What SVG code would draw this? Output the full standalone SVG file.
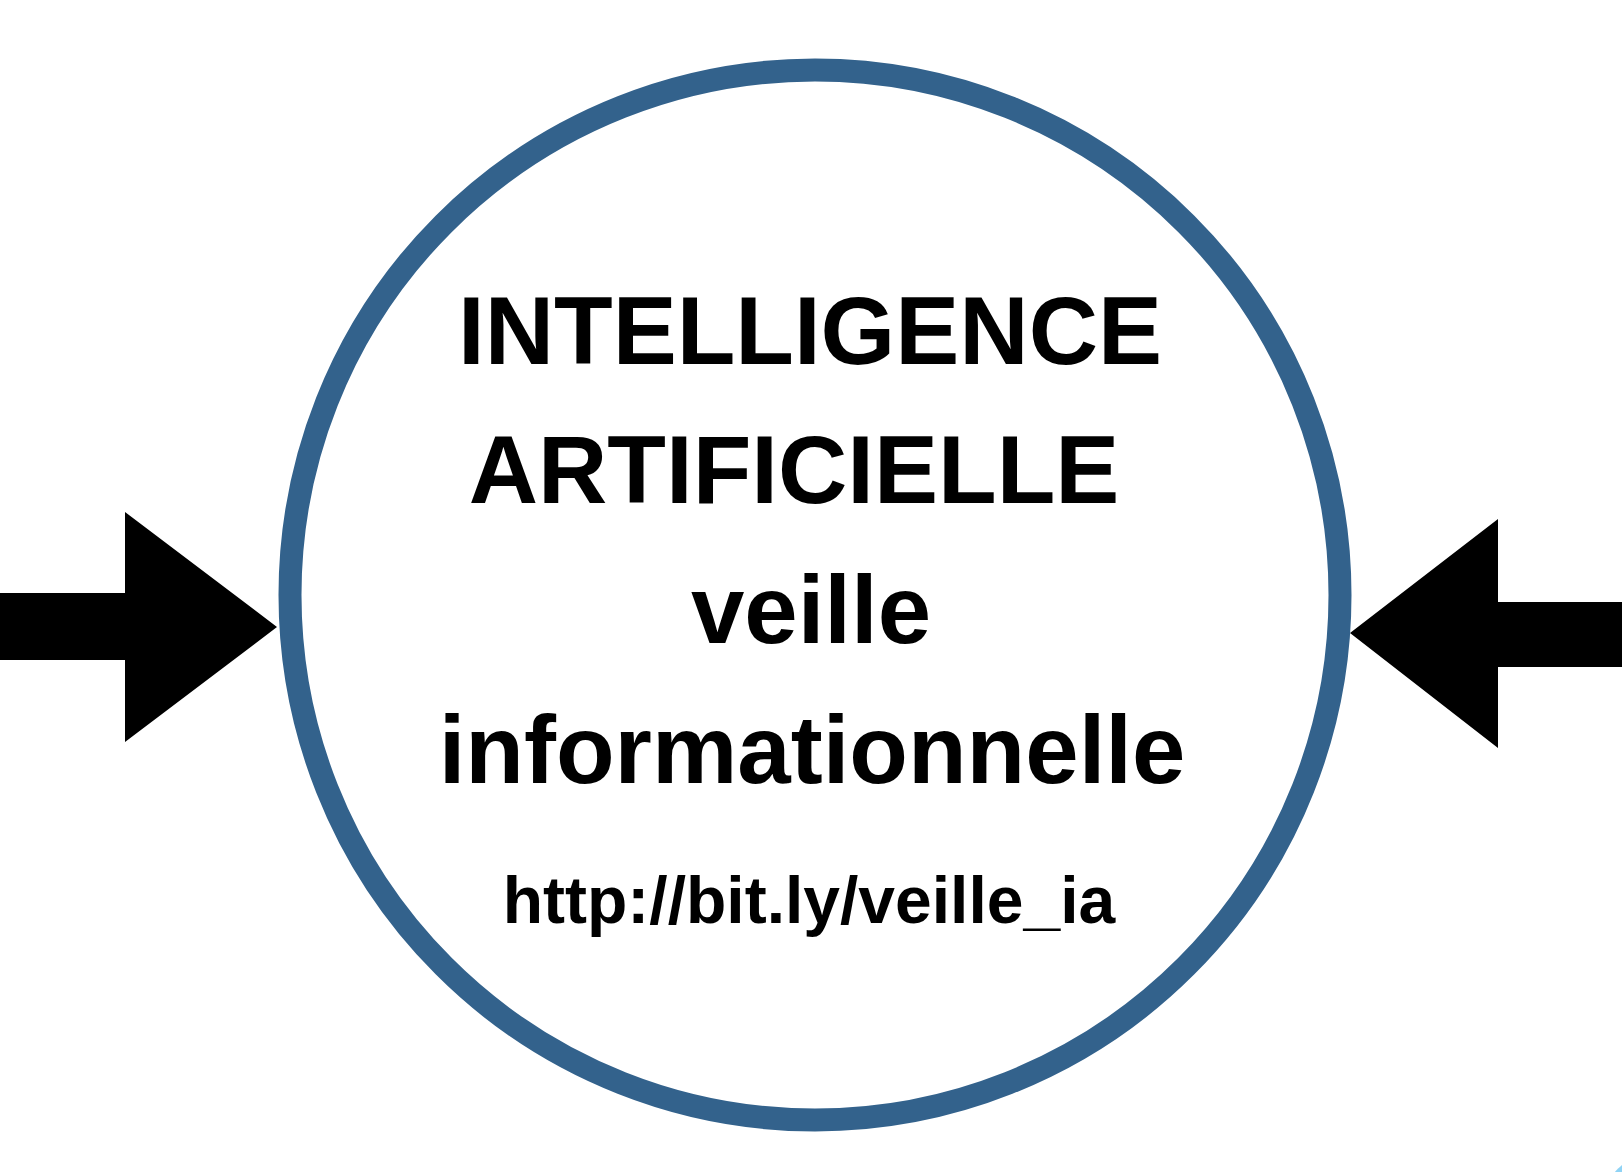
<svg xmlns="http://www.w3.org/2000/svg" width="1622" height="1172" viewBox="0 0 1622 1172">
  <style>
    .t { font-family: "Liberation Sans", Arial, sans-serif; font-weight: bold; fill: #000; text-anchor: middle; }
    .big { font-size: 96px; }
    .url { font-size: 66px; }
    .ring { fill: #ffffff; stroke: #33628c; stroke-width: 23; }
    .arrow { fill: #000; }
  </style>
  <defs>
    <radialGradient id="cornerGrad" cx="1" cy="1" r="1">
      <stop offset="0" stop-color="#1e9be0"/>
      <stop offset="1" stop-color="#8fd3f5"/>
    </radialGradient>
  </defs>
  <rect width="1622" height="1172" fill="#ffffff"/>
  <circle cx="1682" cy="1232" r="90" fill="url(#cornerGrad)"/>
  <g id="connectors">
    <polygon class="arrow" points="0,593 125,593 125,512 277,627 125,742 125,660 0,660"/>
    <polygon class="arrow" points="1622,602 1498,602 1498,519 1350,633 1498,748 1498,667 1622,667"/>
  </g>
  <g id="node-center">
    <circle class="ring" cx="815" cy="595" r="525"/>
    <text class="t big" x="810" y="364">INTELLIGENCE</text>
    <text class="t big" x="794" y="503">ARTIFICIELLE</text>
    <text class="t big" x="811" y="643">veille</text>
    <text class="t big" x="812" y="783">informationnelle</text>
    <text class="t url" x="809" y="923">http://bit.ly/veille_ia</text>
  </g>
</svg>
